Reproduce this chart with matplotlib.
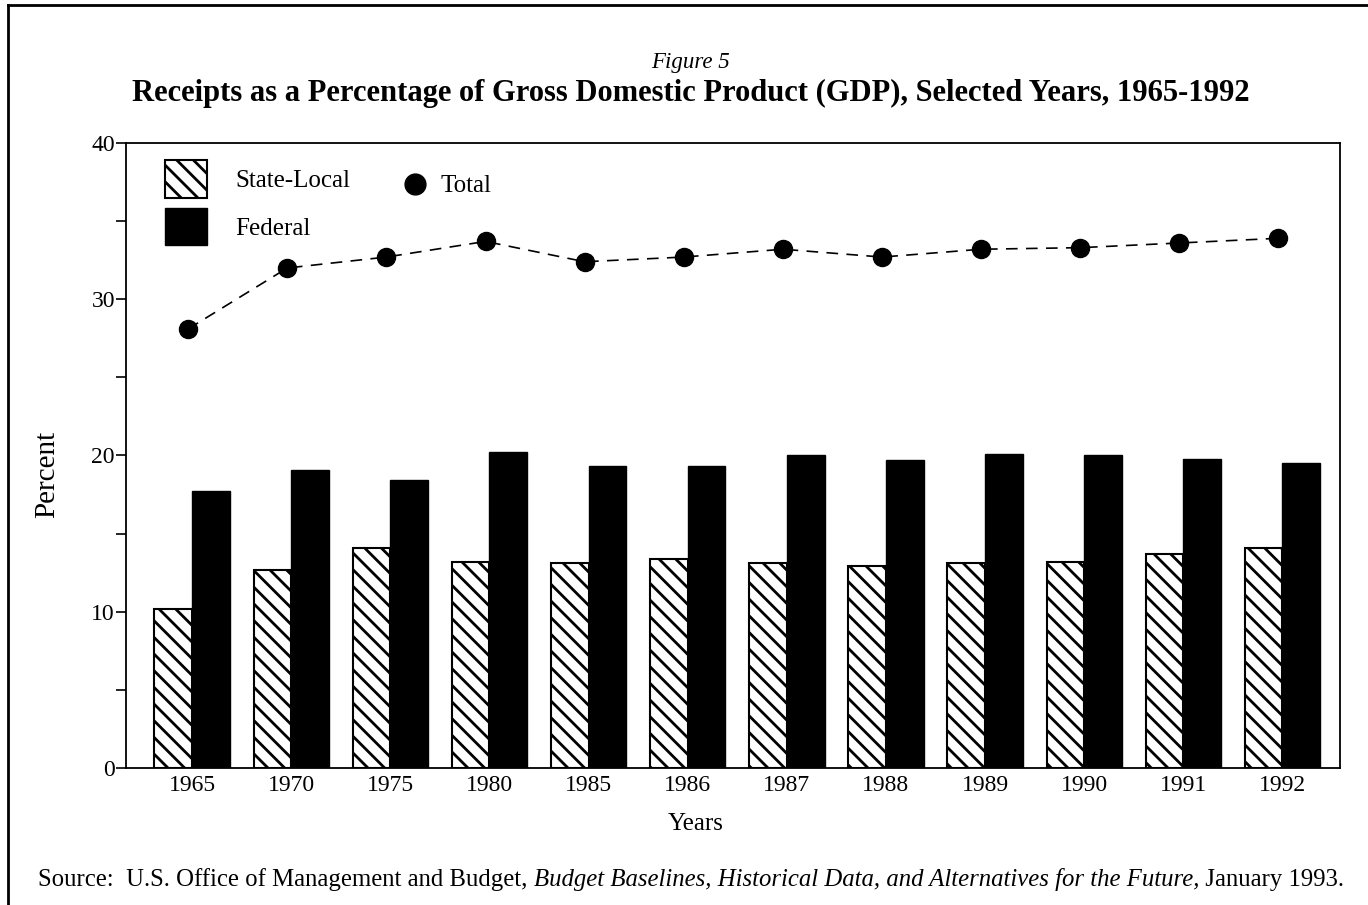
import numpy as np
import matplotlib.pyplot as plt
from matplotlib.patches import Patch
from matplotlib.lines import Line2D

plt.rcParams['font.family'] = ['Liberation Serif', 'DejaVu Serif']
plt.rcParams['hatch.linewidth'] = 2.0

# Data
years = ["1965", "1970", "1975", "1980", "1985", "1986",
         "1987", "1988", "1989", "1990", "1991", "1992"]
state_local = [10.2, 12.7, 14.1, 13.2, 13.1, 13.4, 13.1, 12.9, 13.1, 13.2, 13.7, 14.1]
federal = [17.7, 19.1, 18.4, 20.2, 19.3, 19.3, 20.0, 19.7, 20.1, 20.0, 19.8, 19.5]
total = [28.1, 32.0, 32.7, 33.7, 32.4, 32.7, 33.2, 32.7, 33.2, 33.3, 33.6, 33.9]

fig = plt.figure(figsize=(13.68, 9.05), dpi=100)
ax = fig.add_axes([0.0921, 0.1514, 0.8874, 0.6906])

x = np.arange(len(years))
w = 0.38
ax.bar(x - w/2, state_local, w, color='white', edgecolor='black',
       hatch='\\\\', linewidth=1.5)
ax.bar(x + w/2, federal, w, color='black', edgecolor='black')
ax.plot(x - 0.04, total, linestyle=(0, (7, 5)), color='black', linewidth=1.2,
        marker='o', markersize=13)

ax.set_xlim(-0.667, 11.58)
ax.set_ylim(0, 40)
ax.set_xticks(x)
ax.set_xticklabels(years, fontsize=17)
ax.tick_params(axis='x', length=0, pad=5)
ax.set_yticks([0, 10, 20, 30, 40])
ax.set_yticks([5, 15, 25, 35], minor=True)
ax.tick_params(axis='y', which='both', length=7, width=1.2, labelsize=17, pad=1)
for s in ax.spines.values():
    s.set_linewidth(1.3)

ax.set_ylabel("Percent", fontsize=21)
ax.yaxis.set_label_coords(-0.054, 0.47)
ax.set_xlabel("Years", fontsize=18)
ax.xaxis.set_label_coords(0.4695, -0.072)

# legend: hatched / solid squares, then the Total marker beside them
leg1 = ax.legend([Patch(facecolor='white', edgecolor='black', hatch='\\\\', linewidth=1.5),
                  Patch(facecolor='black', edgecolor='black')],
                 ["State-Local", "Federal"], loc='upper left',
                 bbox_to_anchor=(0.032, 0.973), frameon=False, fontsize=18,
                 handlelength=1.68, handleheight=1.95, handletextpad=1.15,
                 labelspacing=0.4, borderpad=0, borderaxespad=0)
ax.add_artist(leg1)
ax.legend([Line2D([], [], linestyle='none', marker='o', markersize=15, color='black')],
          ["Total"], loc='upper left', bbox_to_anchor=(0.228, 0.949),
          frameon=False, fontsize=18, handlelength=1.0, handletextpad=0.5,
          borderpad=0, borderaxespad=0)

fig.text(0.505, 0.925, "Figure 5", ha='center', fontsize=16.5, style='italic')
fig.text(0.505, 0.888, "Receipts as a Percentage of Gross Domestic Product (GDP), Selected Years, 1965-1992",
         ha='center', fontsize=22, fontweight='bold')

# source line, mixed roman / italic
parts = [("Source:  U.S. Office of Management and Budget, ", 'normal'),
         ("Budget Baselines, Historical Data, and Alternatives for the Future,", 'italic'),
         (" January 1993.", 'normal')]
prev = fig.text(0.028, 0.015, parts[0][0], fontsize=17.8, style=parts[0][1], va='bottom')
for txt, st in parts[1:]:
    prev = ax.annotate(txt, xy=(1, 0), xycoords=prev, fontsize=17.8, style=st,
                       va='bottom', ha='left', annotation_clip=False)

# outer frame lines
fig.add_artist(Line2D([0.006, 0.006], [0.0, 0.994], color='black', linewidth=2))
fig.add_artist(Line2D([0.006, 1.0], [0.994, 0.994], color='black', linewidth=2))

fig.savefig("out.png", dpi=100)
